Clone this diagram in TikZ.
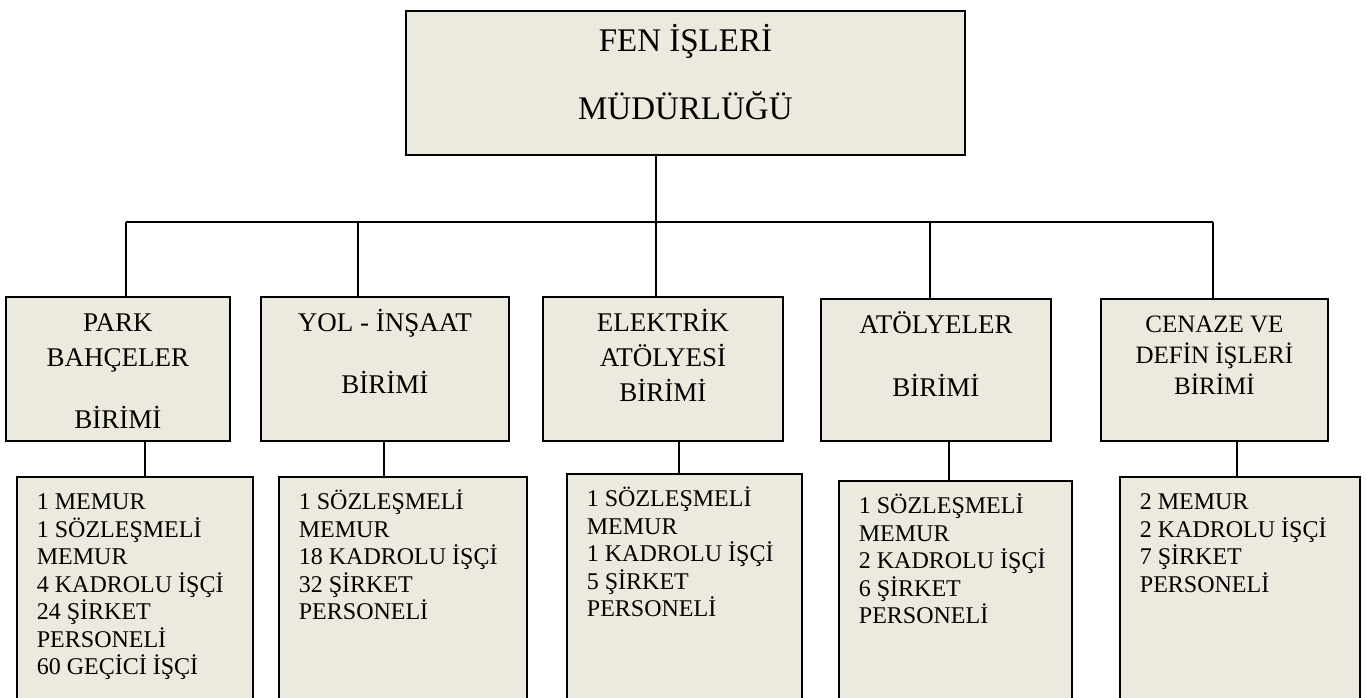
\documentclass[tikz,border=0pt]{standalone}
\usepackage{fontspec}
\setmainfont{Liberation Serif}
\definecolor{boxfill}{RGB}{236,233,222}
% centred box text: width, height, first baseline, font, lines
\newcommand{\headtext}[5]{\parbox[c][#2][t]{#1}{#4\centering\rule{0pt}{#3}#5}}
% staff list: width, height, lines
\newcommand{\stafftext}[3]{\parbox[c][#2][t]{#1}{\fontsize{12}{13.75}\selectfont\raggedright\leftskip=10pt\rule{0pt}{16.5pt}#3}}
\begin{document}
\begin{tikzpicture}[x=0.5pt,y=-0.5pt,
    box/.style={draw,line width=0.9pt,fill=boxfill,inner sep=0pt,anchor=north west},
    conn/.style={line width=0.7pt}]
    \clip (0,0) rectangle (1366,697);
    % directorate
    \node[box] (mud) at (405,10) {\headtext{279.5pt}{72pt}{20.5pt}{\fontsize{16.5}{34}\selectfont}{FEN İŞLERİ\\MÜDÜRLÜĞÜ}};
    % units
    \node[box] (park) at (5,296) {\headtext{112pt}{72pt}{17.5pt}{\fontsize{13.5}{17.5}\selectfont}{PARK\\BAHÇELER\\[13.5pt]BİRİMİ}};
    \node[box] (yol) at (260,296) {\headtext{124pt}{72pt}{17.5pt}{\fontsize{13.5}{17.5}\selectfont}{YOL - İNŞAAT\\[13.5pt]BİRİMİ}};
    \node[box] (elek) at (542,296) {\headtext{120pt}{72pt}{17.5pt}{\fontsize{13.5}{17.5}\selectfont}{ELEKTRİK\\ATÖLYESİ\\BİRİMİ}};
    \node[box] (atol) at (820,298) {\headtext{115pt}{71pt}{17.5pt}{\fontsize{13.5}{17.5}\selectfont}{ATÖLYELER\\[14pt]BİRİMİ}};
    \node[box] (cen) at (1100,298) {\headtext{113.5pt}{71pt}{17pt}{\fontsize{12.5}{15.5}\selectfont}{CENAZE VE\\DEFİN İŞLERİ\\BİRİMİ}};
    % staff
    \node[box] (d1) at (16,476) {\stafftext{118pt}{117pt}{1 MEMUR\\1 SÖZLEŞMELİ\\MEMUR\\4 KADROLU İŞÇİ\\24 ŞİRKET\\PERSONELİ\\60 GEÇİCİ İŞÇİ}};
    \node[box] (d2) at (278,476) {\stafftext{124pt}{117pt}{1 SÖZLEŞMELİ\\MEMUR\\18 KADROLU İŞÇİ\\32 ŞİRKET\\PERSONELİ}};
    \node[box] (d3) at (566,473) {\stafftext{117.5pt}{118.5pt}{1 SÖZLEŞMELİ\\MEMUR\\1 KADROLU İŞÇİ\\5 ŞİRKET\\PERSONELİ}};
    \node[box] (d4) at (838,480) {\stafftext{116.5pt}{115pt}{1 SÖZLEŞMELİ\\MEMUR\\2 KADROLU İŞÇİ\\6 ŞİRKET\\PERSONELİ}};
    \node[box] (d5) at (1119,476) {\stafftext{120pt}{117pt}{2 MEMUR\\2 KADROLU İŞÇİ\\7 ŞİRKET\\PERSONELİ}};
    % connectors
    \coordinate (busL) at (126,222);
    \coordinate (busR) at (1213,222);
    \coordinate (trunk) at (656,222);
    \draw[conn] (busL) -- (busR);
    \draw[conn] (trunk |- mud.south) -- (trunk);
    \foreach \u/\d/\tx/\bx in {park/d1/126/145,yol/d2/358/384,elek/d3/656/679,atol/d4/930/949,cen/d5/1213/1237}{
        \coordinate (up) at (\tx,222);
        \coordinate (dn) at (\bx,0);
        \draw[conn] (up) -- (up |- \u.north);
        \draw[conn] (dn |- \u.south) -- (dn |- \d.north);
    }
\end{tikzpicture}
\end{document}
